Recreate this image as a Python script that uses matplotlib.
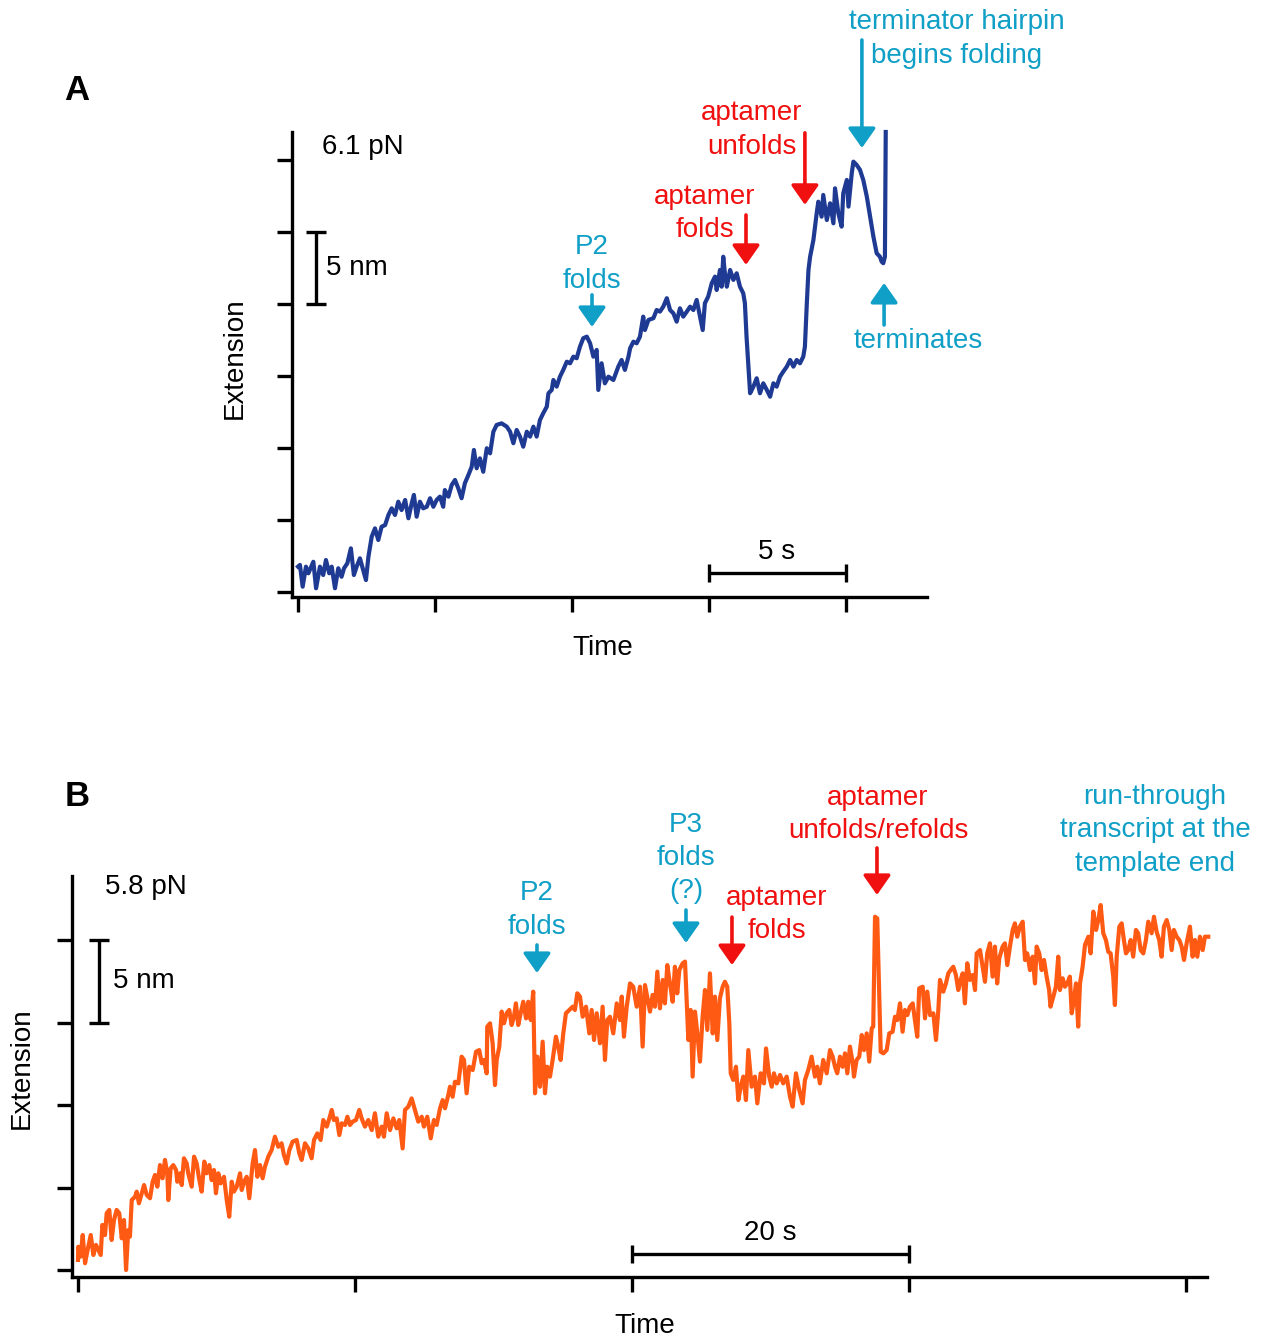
import matplotlib
matplotlib.use("Agg")
import matplotlib.pyplot as plt

plt.rcParams['font.family'] = ['Liberation Sans', 'DejaVu Sans']

# panel A trace (6.1 pN), time in s, extension in nm
time_a = [0.00, 0.07, 0.17, 0.29, 0.38, 0.56, 0.66, 0.80, 0.92, 1.02, 1.14, 1.23, 1.35, 1.47, 1.59, 1.68,
          1.80, 1.93, 2.04, 2.14, 2.26, 2.38, 2.48, 2.57, 2.69, 2.81, 2.93, 3.05, 3.18, 3.30, 3.42, 3.54,
          3.66, 3.78, 3.91, 4.03, 4.15, 4.23, 4.33, 4.45, 4.57, 4.70, 4.82, 4.94, 5.06, 5.18, 5.30, 5.36,
          5.49, 5.61, 5.73, 5.85, 5.97, 6.09, 6.22, 6.34, 6.42, 6.52, 6.64, 6.76, 6.89, 7.01, 7.13, 7.25,
          7.43, 7.62, 7.74, 7.86, 7.98, 8.10, 8.22, 8.35, 8.47, 8.59, 8.71, 8.83, 8.95, 9.08, 9.14, 9.26,
          9.32, 9.44, 9.56, 9.68, 9.81, 9.93, 10.05, 10.17, 10.29, 10.41, 10.54, 10.66, 10.78, 10.90, 10.96,
          11.08, 11.20, 11.33, 11.51, 11.69, 11.81, 11.93, 12.06, 12.12, 12.24, 12.36, 12.48, 12.60, 12.66,
          12.79, 12.97, 13.09, 13.21, 13.33, 13.46, 13.58, 13.70, 13.82, 13.94, 14.06, 14.19, 14.31, 14.43,
          14.55, 14.67, 14.77, 14.85, 14.97, 15.10, 15.22, 15.28, 15.40, 15.46, 15.52, 15.58, 15.65, 15.77,
          15.89, 16.01, 16.13, 16.25, 16.31, 16.37, 16.43, 16.50, 16.62, 16.74, 16.86, 16.98, 17.11, 17.23,
          17.35, 17.47, 17.59, 17.71, 17.84, 17.96, 18.08, 18.20, 18.32, 18.44, 18.50, 18.57, 18.63, 18.69,
          18.81, 18.93, 18.99, 19.11, 19.17, 19.30, 19.42, 19.54, 19.60, 19.72, 19.84, 19.90, 20.03, 20.09,
          20.21, 20.27, 20.39, 20.51, 20.63, 20.76, 20.88, 21.00, 21.12, 21.24, 21.30, 21.36, 21.42, 21.45]
ext_a = [1.76, 1.88, 0.37, 1.76, 1.30, 2.10, 0.26, 1.76, 1.18, 2.22, 1.30, 1.76, 0.26, 1.65, 1.06, 1.65,
         1.99, 3.03, 1.18, 1.76, 2.34, 1.53, 0.83, 2.45, 3.84, 4.42, 3.61, 4.53, 4.65, 5.35, 5.81, 5.35,
         6.27, 5.69, 6.39, 5.12, 6.16, 6.74, 5.23, 6.27, 5.81, 5.92, 6.51, 5.92, 6.39, 6.62, 5.92, 7.08,
         6.62, 7.43, 7.78, 7.20, 6.51, 7.55, 8.13, 8.70, 9.86, 8.59, 9.28, 8.35, 9.98, 9.63, 11.13, 11.60,
         11.71, 11.48, 11.13, 10.33, 11.25, 10.79, 10.09, 11.13, 10.79, 11.48, 10.79, 11.94, 12.41, 12.87, 13.80, 14.03,
         14.72, 14.26, 14.95, 15.42, 15.99, 15.88, 16.34, 16.23, 17.03, 17.62, 17.73, 17.27, 16.34, 16.81, 14.03,
         15.88, 14.49, 14.95, 14.72, 15.65, 16.11, 15.42, 16.34, 16.92, 17.38, 17.27, 17.73, 19.12, 18.19,
         18.89, 19.01, 19.58, 19.47, 19.81, 20.40, 19.58, 19.35, 18.77, 19.70, 19.12, 19.47, 19.81, 19.58,
         20.28, 19.12, 18.19, 20.05, 20.51, 21.44, 21.90, 20.97, 22.36, 21.20, 23.28, 22.13, 21.20, 22.36,
         21.67, 22.13, 21.20, 20.74, 20.05, 17.73, 15.88, 13.80, 14.26, 14.84, 13.80, 14.49, 14.03, 13.56,
         14.49, 14.26, 14.95, 15.30, 15.65, 16.11, 15.65, 16.11, 15.88, 16.34, 17.03, 20.05, 22.36, 23.28,
         24.44, 26.30, 27.10, 26.06, 27.57, 25.83, 26.99, 25.60, 28.03, 26.30, 25.37, 27.69, 28.61, 26.76,
         29.08, 29.88, 29.65, 29.31, 28.61, 27.45, 26.06, 24.67, 23.52, 23.28, 22.94, 22.83, 23.28, 31.94]

# panel B trace (5.8 pN)
time_b = [0.00, 0.02, 0.19, 0.34, 0.51, 0.67, 0.92, 1.11, 1.30, 1.47, 1.64, 1.76, 1.95, 2.07, 2.26, 2.43,
          2.60, 2.79, 2.98, 3.16, 3.32, 3.47, 3.63, 3.75, 3.88, 4.12, 4.24, 4.40, 4.60, 4.77, 4.96, 5.20,
          5.39, 5.56, 5.73, 5.92, 6.11, 6.28, 6.45, 6.52, 6.69, 6.88, 7.08, 7.17, 7.36, 7.49, 7.65, 7.85,
          7.96, 8.21, 8.38, 8.57, 8.74, 8.93, 9.12, 9.29, 9.48, 9.65, 9.82, 9.96, 10.13, 10.30, 10.54, 10.74,
          10.92, 11.10, 11.26, 11.46, 11.70, 11.82, 11.99, 12.18, 12.37, 12.61, 12.78, 12.95, 13.14,
          13.33, 13.50, 13.74, 13.98, 14.22, 14.46, 14.70, 14.87, 15.07, 15.26, 15.50, 15.79, 15.98, 16.15,
          16.39, 16.63, 16.87, 17.04, 17.28, 17.52, 17.71, 17.96, 18.15, 18.32, 18.48, 18.68, 18.87, 19.04,
          19.28, 19.45, 19.64, 19.83, 20.07, 20.31, 20.48, 20.72, 20.96, 21.21, 21.44, 21.68, 21.93, 22.09,
          22.29, 22.53, 22.77, 23.01, 23.20, 23.44, 23.61, 23.85, 24.09, 24.33, 24.57, 24.82, 24.98, 25.22,
          25.47, 25.70, 25.90, 26.14, 26.33, 26.50, 26.74,
          26.86, 27.05, 27.22, 27.46, 27.70, 27.87, 28.06, 28.25, 28.50, 28.74, 28.97, 29.15, 29.31, 29.51,
          29.55, 29.75, 29.94, 30.11, 30.23, 30.42, 30.59, 30.76, 30.95, 31.14, 31.31, 31.48, 31.62, 31.79,
          31.96, 32.15, 32.35, 32.51, 32.69, 32.87, 33.00, 33.16, 33.36, 33.55, 33.72, 33.88, 34.08, 34.27,
          34.51, 34.68, 34.85, 35.04, 35.23, 35.47, 35.72, 35.88, 36.05, 36.25, 36.44, 36.68, 36.92, 37.09,
          37.26, 37.45, 37.69, 37.88, 38.05, 38.22, 38.41, 38.65, 38.90, 39.13, 39.26, 39.42, 39.62, 39.86,
          40.09, 40.34, 40.58,
          40.77, 40.94, 41.10, 41.30, 41.49, 41.66, 41.83, 42.02, 42.22, 42.38, 42.55, 42.74, 42.94, 43.10,
          43.27, 43.42, 43.66, 43.83, 43.95, 44.07, 44.24, 44.38, 44.55, 44.72, 44.91, 45.10, 45.27, 45.44,
          45.63, 45.83, 45.99, 46.16, 46.35, 46.55, 46.71, 46.88, 47.03, 47.13, 47.31, 47.51, 47.68, 47.85,
          48.04, 48.23, 48.40, 48.64, 48.88, 49.05, 49.29, 49.53, 49.68, 49.91, 50.09, 50.25, 50.45, 50.69,
          50.92, 51.17, 51.41, 51.60, 51.84, 52.08, 52.32, 52.49, 52.73, 52.97, 53.21, 53.38, 53.57, 53.81,
          54.06, 54.30,
          54.49, 54.66, 54.82, 55.02, 55.21, 55.38, 55.55, 55.74, 55.94, 56.03, 56.22, 56.41, 56.59, 56.75,
          56.95, 57.13, 57.31, 57.42, 57.55, 57.71, 57.86, 57.96, 58.15, 58.39, 58.58, 58.82, 58.99, 59.16,
          59.35, 59.54, 59.71, 59.88, 60.07, 60.27, 60.43, 60.60, 60.74, 60.99, 61.16, 61.32, 61.52, 61.76,
          61.95, 62.12, 62.24, 62.48, 62.67, 62.84, 63.01, 63.20, 63.39, 63.56, 63.73, 63.88, 64.04, 64.21,
          64.40, 64.60, 64.77, 64.89, 65.13, 65.32, 65.49, 65.65, 65.85, 66.04, 66.21, 66.37, 66.52, 66.76,
          66.93, 67.10, 67.29, 67.49, 67.65, 67.82, 68.01,
          68.21, 68.38, 68.54, 68.74, 68.93, 69.10, 69.22, 69.41, 69.58, 69.75, 69.94, 70.12, 70.22, 70.42,
          70.61, 70.78, 70.90, 71.10, 71.26, 71.43, 71.62, 71.75, 71.91, 72.06, 72.22, 72.35, 72.54, 72.71,
          72.95, 73.12, 73.31, 73.51, 73.67, 73.84, 74.03, 74.22, 74.39, 74.56, 74.75, 74.87, 75.00, 75.19,
          75.36, 75.52, 75.67, 75.83, 76.01, 76.19, 76.39, 76.55, 76.73, 76.92, 77.11, 77.28, 77.52, 77.69,
          77.88, 78.07, 78.24, 78.41, 78.61, 78.80, 78.97, 79.13, 79.33, 79.52, 79.69, 79.86, 80.05, 80.29,
          80.48, 80.65, 80.82, 81.01, 81.21, 81.37, 81.61]
ext_b = [0.61, 1.41, 0.81, 2.12, 0.41, 1.11, 2.12, 0.91, 1.52, 1.21, 0.91, 2.73, 2.12, 3.44, 3.64, 1.82,
         3.03, 3.64, 3.44, 1.92, 3.03, 0.00, 2.42, 2.02, 4.24, 4.44, 4.75, 4.04, 4.65, 5.15, 4.55, 4.35,
         5.35, 5.76, 5.05, 6.36, 5.56, 6.67, 5.86, 4.24, 6.16, 6.36, 6.06, 5.35, 5.86, 5.15, 6.77, 6.46,
         5.86, 5.05, 6.87, 6.46, 5.56, 4.75, 6.57, 5.86, 6.36, 5.45, 6.06, 4.65, 5.86, 5.25, 5.65, 4.24,
         3.23, 5.35, 4.75, 5.05, 5.86, 4.85, 5.35, 5.65, 4.35, 6.46, 7.27, 5.65, 6.36,
         5.56, 6.26, 6.87, 7.27, 8.08, 7.47, 7.68, 6.97, 6.46, 7.27, 7.78, 7.88, 7.07, 6.67,
         7.68, 7.37, 6.77, 7.88, 8.28, 7.88, 9.09, 8.69, 9.19, 9.70, 9.09, 9.19, 8.18, 8.89,
         8.79, 9.29, 8.79, 8.99, 9.09, 9.70, 9.19, 8.69, 9.09, 8.48, 9.50, 8.08, 8.69, 8.08,
         9.50, 8.48, 9.19, 8.59, 9.09, 7.37, 9.70, 9.90, 10.40, 9.70, 8.99, 9.29, 8.69, 9.29,
         7.98, 9.09, 8.79, 9.80, 10.30, 9.80, 10.61,
         11.11, 10.50, 11.41, 11.31, 12.93, 12.73, 10.71, 12.32, 12.12, 13.23, 13.33, 12.53, 12.73, 11.92,
         14.75, 14.95, 13.74, 11.21, 12.73, 13.53, 15.66, 14.95, 15.56, 15.76, 14.85, 15.35, 16.16, 14.85,
         15.56, 16.26, 15.25, 16.26, 15.15, 16.87, 10.71, 12.93, 11.11, 13.84, 10.71, 12.32, 11.72, 12.73,
         14.14, 13.53, 12.73, 14.34, 15.56, 15.76, 15.96, 15.76, 16.77, 16.57, 15.35, 15.96, 14.34, 15.76,
         13.94, 15.56, 13.74, 15.96, 12.73, 15.15, 15.35, 14.34, 16.16, 15.15, 16.57, 14.14, 15.96, 17.37,
         17.17, 15.96, 17.17,
         13.54, 17.27, 16.57, 15.66, 16.67, 15.96, 18.08, 15.86, 17.58, 16.16, 18.48, 17.37, 16.26, 18.38,
         16.77, 18.18, 18.59, 18.69, 16.36, 13.94, 15.76, 11.72, 15.66, 14.34, 12.63, 15.35, 16.97, 14.55,
         17.98, 14.34, 16.57, 13.94, 16.47, 17.17, 17.47, 17.17, 14.95, 11.92, 11.52, 12.32, 10.30, 11.11,
         11.72, 10.30, 13.33, 11.11, 11.72, 10.10, 11.92, 11.31, 13.43, 11.72, 11.11, 11.92, 11.31, 11.82,
         11.31, 11.72, 10.50, 9.90, 11.92, 10.91, 10.10, 11.52, 12.12, 12.93, 11.72, 12.32, 11.31, 12.73,
         11.92, 13.33,
         12.93, 12.32, 11.92, 12.93, 12.32, 13.13, 11.92, 13.54, 12.53, 11.72, 12.73, 12.93, 14.24, 13.33,
         14.34, 12.63, 14.65, 14.75, 21.41, 21.31, 16.36, 13.23, 13.13, 13.33, 14.34, 14.44, 15.35, 15.15,
         16.16, 14.44, 15.76, 15.45, 15.96, 16.16, 15.15, 14.14, 17.07, 17.17, 15.25, 16.87, 15.45, 15.56,
         13.94, 15.76, 17.58, 16.87, 17.37, 17.98, 18.18, 18.38, 17.88, 16.97, 17.58, 17.98, 16.16, 18.59,
         17.58, 17.88, 16.97, 19.19, 19.39, 18.38, 17.47, 19.19, 19.80, 17.78, 19.60, 17.37, 18.89, 19.60,
         19.80, 18.48, 19.60, 20.61, 21.01, 20.20, 20.81,
         21.11, 18.79, 19.19, 18.18, 18.99, 17.37, 19.60, 19.19, 18.18, 18.79, 17.78, 16.97, 15.96, 16.56,
         17.17, 18.99, 16.97, 17.68, 17.17, 17.37, 17.78, 15.56, 16.36, 17.37, 14.75, 17.37, 18.38, 19.70,
         20.20, 19.19, 21.72, 20.61, 21.21, 22.12, 20.41, 20.00, 19.29, 19.19, 17.78, 16.06, 18.99, 20.81,
         21.01, 20.00, 19.19, 19.39, 20.00, 18.99, 20.61, 20.41, 19.39, 19.19, 20.00, 21.11, 20.41, 21.41,
         20.51, 20.00, 18.99, 20.81, 21.21, 20.61, 19.39, 20.61, 20.20, 20.00, 19.60, 18.79, 19.80, 20.81,
         18.99, 20.00, 18.99, 20.20, 19.39, 20.20, 20.20]

ticks_a_x = [0, 5, 10, 15, 20]
ticks_a_y = [0, 5, 10, 15, 20, 25, 30]
ticks_b_x = [0, 20, 40, 60, 80]
ticks_b_y = [0, 5, 10, 15, 20]

blue = "#1F3A93"
orange = "#FF5A14"
cyan = "#109FC6"
red = "#F01010"
W, H = 1261, 1340

fig = plt.figure(figsize=(W / 100, H / 100), dpi=100)
fig.patch.set_facecolor("white")


def style_axes(ax, xt, yt):
    for s in ["top", "right"]:
        ax.spines[s].set_visible(False)
    for s in ["left", "bottom"]:
        ax.spines[s].set_linewidth(2.4)
    ax.set_xticks(xt)
    ax.set_yticks(yt)
    ax.tick_params(direction="out", length=11, width=2.4, labelbottom=False, labelleft=False)


def arrow(ax, tip, tail, color):
    ax.annotate("", xy=tip, xytext=tail, annotation_clip=False,
                arrowprops=dict(arrowstyle="-|>,head_length=0.6,head_width=0.42", lw=2.6,
                                color=color, mutation_scale=20, shrinkA=0, shrinkB=0))


fs = 20
ls = 1.36

# ---------------- panel A
ax1 = fig.add_axes([292 / W, 1 - 597 / H, 635 / W, 465 / H])
ax1.plot(time_a, ext_a, color=blue, lw=3, clip_on=False)
ax1.set_xlim(-0.219, 22.956)
ax1.set_ylim(-0.347, 31.94)
style_axes(ax1, ticks_a_x, ticks_a_y)

ax1.errorbar([0.66], [22.5], yerr=[2.5], color="black", elinewidth=2.4, capsize=7.5, capthick=2.4)
ax1.text(1.02, 22.5, "5 nm", fontsize=fs, va="center", ha="left")
ax1.errorbar([17.5], [1.32], xerr=[2.5], color="black", elinewidth=2.4, capsize=6.5, capthick=2.4)
ax1.text(17.45, 2.78, "5 s", fontsize=fs, va="center", ha="center")
ax1.text(0.88, 30.9, "6.1 pN", fontsize=fs, va="center", ha="left")

ax1.text(10.73, 22.78, "P2\nfolds", color=cyan, fontsize=fs, ha="center", va="center", linespacing=ls)
arrow(ax1, (10.73, 18.40), (10.73, 20.63), cyan)
ax1.text(14.85, 26.28, "aptamer\nfolds", color=red, fontsize=fs, ha="center", va="center", linespacing=ls)
arrow(ax1, (16.35, 22.71), (16.35, 26.18), red)
ax1.text(16.57, 32.08, "aptamer\nunfolds", color=red, fontsize=fs, ha="center", va="center", linespacing=ls)
arrow(ax1, (18.50, 26.88), (18.50, 31.88), red)
ax1.text(24.05, 38.40, "terminator hairpin\nbegins folding", color=cyan, fontsize=fs,
         ha="center", va="center", linespacing=ls)
arrow(ax1, (20.58, 30.83), (20.58, 38.33), cyan)
ax1.text(22.63, 17.43, "terminates", color=cyan, fontsize=fs, ha="center", va="center")
arrow(ax1, (21.39, 21.46), (21.39, 18.54), cyan)

fig.text(235 / W, 1 - 358 / H, "Extension", fontsize=fs, rotation=90, ha="center", va="center")
fig.text(603 / W, 1 - 648 / H, "Time", fontsize=fs, ha="center", va="center")
fig.text(77 / W, 1 - 90 / H, "A", fontsize=25, fontweight="bold", ha="center", va="center")

# ---------------- panel B
ax2 = fig.add_axes([72 / W, 1 - 1277 / H, 1135 / W, 401 / H])
ax2.plot(time_b, ext_b, color=orange, lw=3, clip_on=False)
ax2.set_xlim(-0.433, 81.52)
ax2.set_ylim(-0.424, 23.88)
style_axes(ax2, ticks_b_x, ticks_b_y)

ax2.errorbar([1.52], [17.5], yerr=[2.5], color="black", elinewidth=2.4, capsize=7, capthick=2.4)
ax2.text(2.53, 17.5, "5 nm", fontsize=fs, va="center", ha="left")
ax2.errorbar([50.0], [0.97], xerr=[10], color="black", elinewidth=2.4, capsize=6.5, capthick=2.4)
ax2.text(49.96, 2.24, "20 s", fontsize=fs, va="center", ha="center")
ax2.text(1.95, 23.2, "5.8 pN", fontsize=fs, va="center", ha="left")

ax2.text(33.14, 21.82, "P2\nfolds", color=cyan, fontsize=fs, ha="center", va="center", linespacing=ls)
arrow(ax2, (33.14, 18.0), (33.14, 19.70), cyan)
ax2.text(43.90, 24.97, "P3\nfolds\n(?)", color=cyan, fontsize=fs, ha="center", va="center", linespacing=ls)
arrow(ax2, (43.90, 19.82), (43.90, 21.82), cyan)
ax2.text(50.47, 21.55, "aptamer\nfolds", color=red, fontsize=fs, ha="center", va="center", linespacing=ls)
arrow(ax2, (47.22, 18.48), (47.22, 21.39), red)
ax2.text(57.76, 27.61, "aptamer\nunfolds/refolds", color=red, fontsize=fs, ha="center", va="center",
         linespacing=ls)
arrow(ax2, (57.69, 22.73), (57.69, 25.58), red)
ax2.text(77.76, 26.64, "run-through\ntranscript at the\ntemplate end", color=cyan, fontsize=fs,
         ha="center", va="center", linespacing=ls)

fig.text(22 / W, 1 - 1068 / H, "Extension", fontsize=fs, rotation=90, ha="center", va="center")
fig.text(645 / W, 1 - 1326 / H, "Time", fontsize=fs, ha="center", va="center")
fig.text(77 / W, 1 - 797 / H, "B", fontsize=25, fontweight="bold", ha="center", va="center")

fig.savefig("out.png", dpi=100)
